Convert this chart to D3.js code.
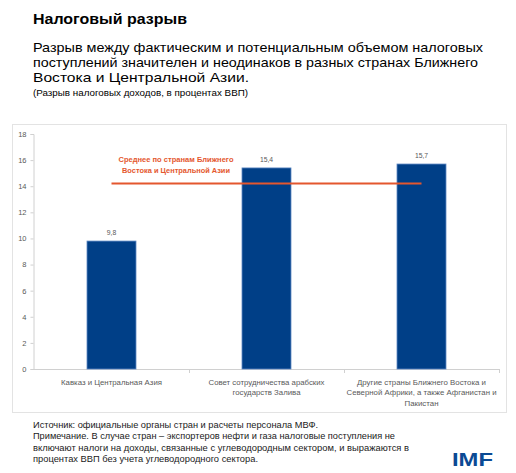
<!DOCTYPE html>
<html><head><meta charset="utf-8">
<script src="https://cdn.jsdelivr.net/npm/d3@7"></script>
<style>html,body{margin:0;padding:0;background:#fff;}svg{display:block;}</style>
</head><body>
<svg id="c" width="516" height="473"></svg>
<script>
const categories = [
  ["Кавказ и Центральная Азия"],
  ["Совет сотрудничества арабских", "государств Залива"],
  ["Другие страны Ближнего Востока и", "Северной Африки, а также Афганистан и", "Пакистан"]
];
const categoryKeys = ["cca", "gcc", "other"];
const values = [9.8, 15.4, 15.7];
const valueLabels = ["9,8", "15,4", "15,7"];
const averageValue = 14.2;
const averageLabel = ["Среднее по странам Ближнего", "Востока и Центральной Азии"];
const yTicks = [0, 2, 4, 6, 8, 10, 12, 14, 16, 18];
const titleText = "Налоговый разрыв";
const subtitleLines = [
  "Разрыв между фактическим и потенциальным объемом налоговых",
  "поступлений значителен и неодинаков в разных странах Ближнего",
  "Востока и Центральной Азии."
];
const captionText = "(Разрыв налоговых доходов, в процентах ВВП)";
const noteLines = [
  "Источник: официальные органы стран и расчеты персонала МВФ.",
  "Примечание. В случае стран – экспортеров нефти и газа налоговые поступления не",
  "включают налоги на доходы, связанные с углеводородным сектором, и выражаются в",
  "процентах ВВП без учета углеводородного сектора."
];

const FONT = "'Liberation Sans', Arial, sans-serif";
const svg = d3.select("#c");
svg.append("rect").attr("width",516).attr("height",473).attr("fill","#fff");

function fitText(sel, w) {
  sel.attr("textLength", w).attr("lengthAdjust","spacingAndGlyphs");
}

// Title
svg.append("text").attr("x",33).attr("y",24).attr("font-family",FONT).attr("font-weight","bold")
  .attr("font-size",15.5).attr("fill","#000").text(titleText).call(fitText,154);
subtitleLines.forEach((t,i)=>{
  svg.append("text").attr("x",33).attr("y",51.5+i*15.2).attr("font-family",FONT)
    .attr("font-size",13.6).attr("fill","#000").text(t).call(fitText,[450,445,216][i]);
});
svg.append("text").attr("x",33).attr("y",96).attr("font-family",FONT)
  .attr("font-size",8.6).attr("fill","#000").text(captionText).call(fitText,215);

// Frame
svg.append("rect").attr("x",12.5).attr("y",124.5).attr("width",494).attr("height",288)
  .attr("fill","none").attr("stroke","#e3e3e3").attr("stroke-width",1);

// Scales
const x = d3.scaleBand().domain(categoryKeys).range([34,499]).paddingInner(0.684).paddingOuter(0.342);
const y = d3.scaleLinear().domain([0,18]).range([369,134]);

// Y axis
const yAxis = svg.append("g").attr("transform","translate(33.5,0)")
  .call(d3.axisLeft(y).tickValues(yTicks).tickSize(3).tickPadding(4).tickFormat(d3.format("d")));
yAxis.select(".domain").attr("stroke","#d0d0d0");
yAxis.selectAll(".tick line").attr("stroke","#d0d0d0");
yAxis.selectAll(".tick text").attr("font-family",FONT).attr("font-size",7.5).attr("fill","#595959");

// X axis line with boundary ticks
const xl = svg.append("g");
xl.append("line").attr("x1",33).attr("x2",499).attr("y1",369.5).attr("y2",369.5).attr("stroke","#d0d0d0");
const step = x.step();
categoryKeys.forEach((k,i)=>{
  const bx = x(k) - x.paddingInner()*step/2 + step;
  xl.append("line").attr("x1",Math.round(bx)+0.5).attr("x2",Math.round(bx)+0.5).attr("y1",369).attr("y2",373).attr("stroke","#d0d0d0");
});

// Bars
svg.append("g").selectAll("rect").data(values).join("rect")
  .attr("x",(d,i)=>x(categoryKeys[i])).attr("width",x.bandwidth())
  .attr("y",d=>y(d)).attr("height",d=>y(0)-y(d))
  .attr("fill","#003f87").attr("stroke","#5b86c2").attr("stroke-width",0.8);

// Value labels
svg.append("g").selectAll("text").data(values).join("text")
  .attr("x",(d,i)=>x(categoryKeys[i])+x.bandwidth()/2).attr("y",d=>y(d)-6)
  .attr("text-anchor","middle").attr("font-family",FONT).attr("font-size",6.8).attr("fill","#595959")
  .text((d,i)=>valueLabels[i]);

// X labels
const xLabelW = [[101],[116,68],[129,150,34]];
categories.forEach((lines,i)=>{
  const cx = x(categoryKeys[i]) + x.bandwidth()/2;
  lines.forEach((t,j)=>{
    svg.append("text").attr("x",cx).attr("y",384.5+j*10.6).attr("text-anchor","middle")
      .attr("font-family",FONT).attr("font-size",7.6).attr("fill","#595959").text(t)
      .call(fitText, xLabelW[i][j]);
  });
});

// Average line
const ax1 = x(categoryKeys[0]) + x.bandwidth()/2;
const ax2 = x(categoryKeys[2]) + x.bandwidth()/2;
svg.append("line").attr("x1",ax1).attr("x2",ax2).attr("y1",y(averageValue)).attr("y2",y(averageValue))
  .attr("stroke","#e4572e").attr("stroke-width",2);
averageLabel.forEach((t,j)=>{
  svg.append("text").attr("x",176).attr("y",162+j*11).attr("text-anchor","middle")
    .attr("font-family",FONT).attr("font-weight","bold").attr("font-size",7.8).attr("fill","#e4572e").text(t)
    .call(fitText,[115,108][j]);
});

// Notes
noteLines.forEach((t,i)=>{
  svg.append("text").attr("x",33).attr("y",428+i*11.3).attr("font-family",FONT)
    .attr("font-size",9).attr("fill","#1a1a1a").text(t).call(fitText,[285,362,376,225][i]);
});

// IMF logo text
svg.append("text").attr("x",452).attr("y",465.5).attr("font-family",FONT)
  .attr("font-weight","bold").attr("font-size",18.5).attr("fill","#0b4a94").text("IMF").call(fitText,41);
</script>
</body></html>
